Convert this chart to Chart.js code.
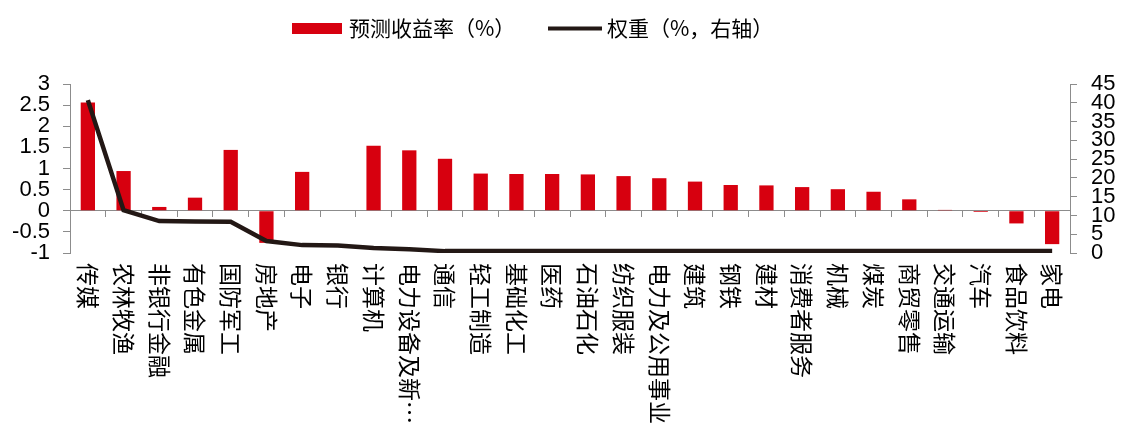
<!DOCTYPE html>
<html>
<head>
<meta charset="utf-8">
<script src="https://cdn.jsdelivr.net/npm/chart.js@4.4.0/dist/chart.umd.min.js"></script>
<style>
    body { margin: 0; background: #fff; }
</style>
</head>
<body>
<canvas id="graficaSectores" width="1128" height="444"></canvas>
<script>
const categorias = ["传媒", "农林牧渔", "非银行金融", "有色金属", "国防军工", "房地产", "电子", "银行",
    "计算机", "电力设备及新能源", "通信", "轻工制造", "基础化工", "医药", "石油石化", "纺织服装",
    "电力及公用事业", "建筑", "钢铁", "建材", "消费者服务", "机械", "煤炭", "商贸零售",
    "交通运输", "汽车", "食品饮料", "家电"];

const prediccion = [2.56, 0.94, 0.09, 0.31, 1.44, -0.76, 0.92, 0, 1.54, 1.43, 1.23, 0.88, 0.87, 0.87,
    0.86, 0.82, 0.77, 0.69, 0.61, 0.60, 0.56, 0.51, 0.45, 0.27, 0.02, -0.03, -0.30, -0.79];

const pesos = [40.7, 11.4, 8.5, 8.4, 8.3, 3.2, 2.1, 2.0, 1.3, 1.0, 0.5, 0.5, 0.5, 0.5,
    0.5, 0.5, 0.5, 0.5, 0.5, 0.5, 0.5, 0.5, 0.5, 0.5, 0.5, 0.5, 0.5, 0.5];

const ticksIzq = [-1, 3, 0.5];   // min, max, paso
const ticksDer = [0, 45, 5];

const ROJO = "#d7000f";
const NEGRO = "#231815";
const GRIS = "#8c8c8c";
const fuenteCJK = "'Noto Sans CJK SC', sans-serif";
const fuenteNum = "'Liberation Sans', Arial, sans-serif";

// etiquetas verticales (giradas en sentido horario) y leyenda
const dibujarTextos = {
    id: "dibujarTextos",
    afterDraw(chart) {
        const ctx = chart.ctx;
        const x = chart.scales.x;

        ctx.save();
        ctx.fillStyle = "#000";
        ctx.font = "23px " + fuenteCJK;
        ctx.textAlign = "left";
        ctx.textBaseline = "middle";
        categorias.forEach((c, i) => {
            const txt = c.length > 7 ? c.slice(0, 6) + "…" : c;
            ctx.save();
            ctx.translate(x.getPixelForValue(i), 263);
            ctx.rotate(Math.PI / 2);
            ctx.fillText(txt, 0, 0);
            ctx.restore();
        });

        // leyenda
        ctx.fillStyle = ROJO;
        ctx.fillRect(292, 23, 50, 11);
        ctx.strokeStyle = NEGRO;
        ctx.lineWidth = 4;
        ctx.beginPath();
        ctx.moveTo(548, 28.5);
        ctx.lineTo(602, 28.5);
        ctx.stroke();

        ctx.fillStyle = "#000";
        ctx.font = "21px " + fuenteCJK;
        ctx.fillText("预测收益率（%）", 349, 28);
        ctx.fillText("权重（%，右轴）", 607, 28);
        ctx.restore();
    }
};

const ctx = document.getElementById("graficaSectores").getContext("2d");

new Chart(ctx, {
    type: "bar",
    data: {
        labels: categorias,
        datasets: [{
            type: "line",
            label: "权重（%，右轴）",
            data: pesos,
            yAxisID: "y2",
            borderColor: NEGRO,
            borderWidth: 4.5,
            pointRadius: 0,
            tension: 0,
            order: 0
        }, {
            label: "预测收益率（%）",
            data: prediccion,
            yAxisID: "y",
            backgroundColor: ROJO,
            barPercentage: 0.4,
            categoryPercentage: 1,
            order: 1
        }]
    },
    options: {
        responsive: false,
        animation: false,
        layout: {
            padding: { top: 84, bottom: 191, left: 0, right: 0 }
        },
        plugins: {
            legend: { display: false },
            tooltip: { enabled: false }
        },
        scales: {
            x: {
                position: { y: 0 },
                ticks: { display: false },
                grid: {
                    offset: true,
                    drawOnChartArea: false,
                    tickLength: 6,
                    color: GRIS
                },
                border: { color: GRIS, width: 1 }
            },
            y: {
                position: "left",
                min: ticksIzq[0],
                max: ticksIzq[1],
                afterFit(scale) { scale.width = 70; },
                ticks: {
                    stepSize: ticksIzq[2],
                    autoSkip: false,
                    padding: 13,
                    color: "#000",
                    font: { family: fuenteNum, size: 22 },
                    callback: v => String(v)
                },
                grid: { drawOnChartArea: false, tickLength: 7, color: GRIS },
                border: { color: GRIS }
            },
            y2: {
                position: "right",
                min: ticksDer[0],
                max: ticksDer[1],
                afterFit(scale) { scale.width = 58; },
                ticks: {
                    stepSize: ticksDer[2],
                    autoSkip: false,
                    padding: 14,
                    color: "#000",
                    font: { family: fuenteNum, size: 22 },
                    callback: v => String(v)
                },
                grid: { drawOnChartArea: false, tickLength: 7, color: GRIS },
                border: { color: GRIS }
            }
        }
    },
    plugins: [dibujarTextos]
});
</script>
</body>
</html>
